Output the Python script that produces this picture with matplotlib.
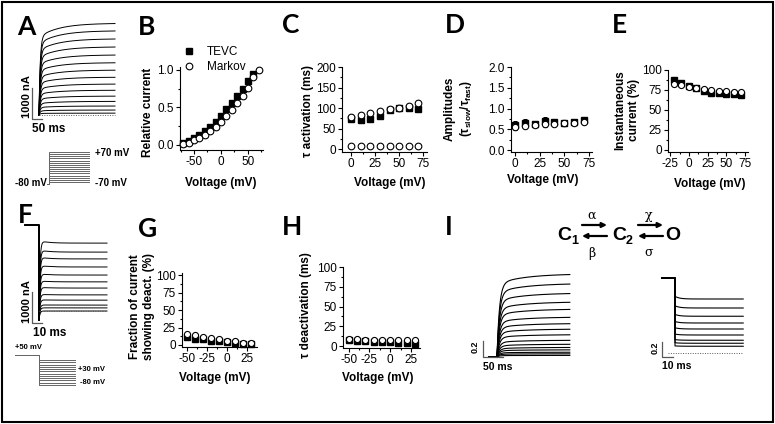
import numpy as np
import matplotlib
matplotlib.use("Agg")
import matplotlib.pyplot as plt
from matplotlib.ticker import MultipleLocator, FormatStrFormatter
from matplotlib.patches import Rectangle
from matplotlib.lines import Line2D

plt.rcParams["font.family"] = ["Liberation Sans", "DejaVu Sans"]
plt.rcParams["mathtext.default"] = "regular"
plt.rcParams["axes.unicode_minus"] = False

W, H = 775, 424

# ---------------- data ----------------
# A: activation current family (steady amplitude per step, nA) + protocol
A_levels = [2960, 2720, 2460, 2200, 1940, 1690, 1450, 1220, 1000, 800, 610, 440, 290, 160, 60]
A_hold = -80
A_steps = [-70, -60, -50, -40, -30, -20, -10, 0, 10, 20, 30, 40, 50, 60, 70]

# B: relative current vs voltage
B_v_tevc = [-70, -60, -50, -40, -30, -20, -10, 0, 10, 20, 30, 40, 50, 60]
B_tevc = [0.03, 0.05, 0.09, 0.13, 0.18, 0.24, 0.31, 0.39, 0.48, 0.56, 0.65, 0.75, 0.85, 0.95]
B_v_markov = [-70, -60, -50, -40, -30, -20, -10, 0, 10, 20, 30, 40, 50, 60, 70]
B_markov = [0.01, 0.03, 0.06, 0.09, 0.13, 0.18, 0.24, 0.31, 0.39, 0.47, 0.56, 0.65, 0.76, 0.90, 1.00]

# C: activation time constants (ms)
C_v = [0, 10, 20, 30, 40, 50, 60, 70]
C_tevc_slow = [74, 71, 74, 80, 95, 100, 100, 97]
C_markov_slow = [79, 83, 87, 92, 97, 101, 105, 111]
C_markov_fast = [7, 7, 7, 7, 7, 7, 7, 7]

# D: amplitude ratio slow/fast
D_v = [0, 10, 20, 30, 40, 50, 60, 70]
D_tevc = [0.60, 0.66, 0.62, 0.70, 0.67, 0.64, 0.68, 0.73]
D_tevc_err = [0.10, 0.09, 0.05, 0.10, 0.07, 0.07, 0.07, 0.06]
D_markov = [0.55, 0.58, 0.60, 0.62, 0.63, 0.64, 0.66, 0.68]
D_markov_err = [0.06, 0.05, 0.04, 0.06, 0.05, 0.05, 0.05, 0.04]

# E: instantaneous current (%)
E_v = [-20, -10, 0, 10, 20, 30, 40, 50, 60, 70]
E_tevc = [87, 84, 80, 77, 74, 71, 71, 70, 70, 69]
E_tevc_err = [2, 2, 2, 2, 2, 2, 2, 2, 2, 2]
E_markov = [83, 81, 79, 77, 76, 75, 74, 74, 73, 73]

# F: deactivation family (tail level per step, nA) + protocol
F_pre = 2770
F_levels = [2190, 1900, 1680, 1420, 1160, 940, 740, 520, 350, 190, 100, 0]
F_pre_v = 50
F_steps = [30, 20, 10, 0, -10, -20, -30, -40, -50, -60, -70, -80]

# G: fraction of current showing deactivation (%)
G_v = [-50, -40, -30, -20, -10, 0, 10, 20, 30]
G_markov = [16, 14, 12, 10, 8, 6, 5, 3, 3]
G_tevc = [11, 9, 8, 6, 5, 4, 3, 2, 1]

# H: deactivation time constant (ms)
H_v = [-50, -40, -30, -20, -10, 0, 10, 20, 30]
H_markov = [9, 9, 8, 8, 8, 8, 8, 8, 8]
H_tevc = [7, 6, 6, 5, 5, 5, 4, 4, 3]

# I: simulated (normalised) activation and tail levels
I_act_levels = [1.04, 0.92, 0.80, 0.69, 0.60, 0.50, 0.42, 0.35, 0.28, 0.21,
                0.16, 0.12, 0.09, 0.06, 0.04, 0.02]
I_tail_levels = [0.72, 0.60, 0.49, 0.40, 0.32, 0.24, 0.17, 0.13, 0.09]

# ---------------- figure ----------------
fig = plt.figure(figsize=(W / 100, H / 100), dpi=100)

bg = fig.add_axes([0, 0, 1, 1])
bg.set_xlim(0, W)
bg.set_ylim(H, 0)
bg.axis("off")
bg.add_patch(Rectangle((2, 2), W - 4, H - 4, fill=False, lw=1.5, ec="k", clip_on=False))


def fp(x, y):
    return x / W, 1 - y / H


def data_axes(x0, x1, ytop, ybot, xlim, ylim, xmaj, xmin, ymaj, ymin, yfmt="%d"):
    ax = fig.add_axes([x0 / W, 1 - ybot / H, (x1 - x0) / W, (ybot - ytop) / H])
    ax.set_xlim(*xlim)
    ax.set_ylim(*ylim)
    for s in ("top", "right"):
        ax.spines[s].set_visible(False)
    for s in ("left", "bottom"):
        ax.spines[s].set_linewidth(0.8)
    ax.xaxis.set_major_locator(MultipleLocator(xmaj))
    ax.xaxis.set_minor_locator(MultipleLocator(xmin))
    ax.yaxis.set_major_locator(MultipleLocator(ymaj))
    ax.yaxis.set_minor_locator(MultipleLocator(ymin))
    ax.yaxis.set_major_formatter(FormatStrFormatter(yfmt))
    ax.tick_params(which="both", direction="out", width=0.8, labelsize=8.5, pad=1.5)
    ax.tick_params(which="major", length=3)
    ax.tick_params(which="minor", length=1.6)
    ax.patch.set_alpha(0)
    return ax


def labels(ax, xl, xpos, yl, ypos):
    ax.set_xlabel(xl, fontsize=8.5, fontweight="bold", va="center")
    ax.xaxis.set_label_coords(*fp(*xpos), transform=fig.transFigure)
    ax.set_ylabel(yl, fontsize=8.5, fontweight="bold", va="center", ha="center",
                  multialignment="center", linespacing=1.2)
    ax.yaxis.set_label_coords(*fp(*ypos), transform=fig.transFigure)


def pair(ax, v1, y1, v2, y2, e1=None, e2=None, ms_sq=4.3, ms_ci=4.8):
    ax.errorbar(v1, y1, yerr=e1, fmt="s", color="k", ms=ms_sq, capsize=1.5,
                elinewidth=0.7, capthick=0.7, clip_on=False, zorder=3)
    ax.errorbar(v2, y2, yerr=e2, fmt="o", color="k", mfc="white", mec="k", mew=0.8,
                ms=ms_ci, capsize=1.5, elinewidth=0.7, capthick=0.7, clip_on=False, zorder=4)


def trace_axes(box, origin, scale):
    x0, y0, x1, y1 = box
    ox, oy = origin
    sx, sy = scale
    ax = fig.add_axes([x0 / W, 1 - y1 / H, (x1 - x0) / W, (y1 - y0) / H])
    ax.set_xlim((x0 - ox) / sx, (x1 - ox) / sx)
    ax.set_ylim((oy - y1) / sy, (oy - y0) / sy)
    ax.axis("off")
    return ax


bold = dict(fontweight="bold")

# ---- A traces ----
axA = trace_axes((8, 15, 125, 140), (39, 115), (0.2, 0.031))
tA = np.linspace(0, 380, 500)
for L in A_levels:
    axA.plot(tA, L * (0.85 * (1 - np.exp(-tA / 6)) + 0.15 * (1 - np.exp(-tA / 100))),
             color="k", lw=0.7)
axA.plot(tA[[0, -1]], [0, 0], color="0.35", lw=0.7, ls=(0, (1, 1.5)))
axA.plot([-35, -35, 15], [870, -130, -130], color="0.35", lw=0.9)
axA.text(-60, 580, "1000 nA", rotation=90, ha="center", va="center", fontsize=8, **bold)
axA.text(-35, -260, "50 ms", ha="left", va="top", fontsize=8.5, **bold)

axPA = trace_axes((5, 140, 130, 195), (49, 167), (0.2, 30 / 140))
for v in A_steps:
    axPA.plot([-10, 0, 0, 200], [A_hold, A_hold, v, v], color="0.4", lw=0.7)
axPA.text(230, 66, "+70 mV", ha="left", va="center", fontsize=7, **bold)
axPA.text(230, -74, "-70 mV", ha="left", va="center", fontsize=7, **bold)
axPA.text(-12, -74, "-80 mV", ha="right", va="center", fontsize=7, **bold)

# ---- F traces ----
axF = trace_axes((8, 215, 125, 345), (39, 311), (1.0, 0.031))
tF = np.linspace(0, 68, 600)
for L in F_levels:
    I = L * (1 + 0.04 * np.exp(-tF / 8)) - (1.04 * L + 300) * np.exp(-tF / 0.9)
    axF.plot(np.r_[-14, 0, tF], np.r_[F_pre, F_pre, I], color="k", lw=0.7)
axF.plot(tF[[0, -1]], [0, 0], color="0.35", lw=0.7, ls=(0, (1, 1.5)))
axF.plot([-7, -7, 3], [613, -387, -387], color="0.35", lw=0.9)
axF.text(-12, 290, "1000 nA", rotation=90, ha="center", va="center", fontsize=8, **bold)
axF.text(-6, -516, "10 ms", ha="left", va="top", fontsize=8.5, **bold)

axPF = trace_axes((5, 340, 130, 395), (39, 366.8), (1.0, 25 / 110))
for v in F_steps:
    axPF.plot([-24, 0, 0, 36], [F_pre_v, F_pre_v, v, v], color="0.4", lw=0.7)
axPF.text(-24, 69, "+50 mV", ha="left", va="bottom", fontsize=5.5, **bold)
axPF.text(39, -10, "+30 mV", ha="left", va="center", fontsize=5.5, **bold)
axPF.text(41, -71, "-80 mV", ha="left", va="center", fontsize=5.5, **bold)

# ---- I traces ----
axI1 = trace_axes((460, 260, 580, 375), (497, 357), (0.4, 80))
tI = np.linspace(0, 182, 500)
for L in I_act_levels:
    I = L * (0.88 * (1 - np.exp(-tI / 6)) + 0.12 * (1 - np.exp(-tI / 70)))
    axI1.plot(np.r_[-20, tI], np.r_[0, I], color="k", lw=0.8)
axI1.plot([-35, -35, 15], [0.2, 0, 0], color="0.35", lw=0.9)
axI1.text(-55, 0.125, "0.2", rotation=90, ha="center", va="center", fontsize=6.5, **bold)
axI1.text(-35, -0.0625, "50 ms", ha="left", va="top", fontsize=7.5, **bold)

axI2 = trace_axes((640, 260, 760, 375), (675, 353), (1.1, 75))
tR = np.linspace(0, 62, 300)
for L in I_tail_levels:
    axI2.plot(np.r_[-12, 0, tR], np.r_[1, 1, L * (1 + 0.05 * np.exp(-tR / 4))],
              color="k", lw=0.8)
axI2.plot([-6, 61], [0, 0], color="0.35", lw=0.7, ls=(0, (1, 1.5)))
axI2.plot([-12, -12, -2], [0.147, -0.053, -0.053], color="0.35", lw=0.9)
axI2.text(-18.2, 0.067, "0.2", rotation=90, ha="center", va="center", fontsize=6.5, **bold)
axI2.text(-12, -0.107, "10 ms", ha="left", va="top", fontsize=7.5, **bold)

# ---- B ----
axB = data_axes(180, 263, 67, 150, (-76, 78), (-0.067, 1.04), 50, 25, 0.5, 0.25, "%.1f")
pair(axB, B_v_tevc, B_tevc, B_v_markov, B_markov, ms_sq=4.3, ms_ci=4.8)
handles = [Line2D([], [], ls="none", marker="s", color="k", ms=4.3),
           Line2D([], [], ls="none", marker="o", mfc="white", mec="k", mew=0.8, ms=4.8)]
axB.legend(handles, ["TEVC", "Markov"], loc="upper left",
           bbox_to_anchor=((183 - 180) / 83, (150 - 46) / 83), frameon=False,
           handlelength=1.0, handletextpad=1.0, labelspacing=0.25, fontsize=8.5,
           borderaxespad=0, borderpad=0)
labels(axB, "Voltage (mV)", (221, 183), "Relative current", (148, 112))

# ---- C ----
axC = data_axes(342, 427, 67, 152, (-9.4, 79), (-7.3, 200), 25, 12.5, 50, 25)
pair(axC, C_v, C_tevc_slow, C_v, C_markov_slow)
axC.plot(C_v, C_markov_fast, ls="none", marker="o", mfc="white", mec="k", mew=0.8,
         ms=4.8, clip_on=False, zorder=4)
labels(axC, "Voltage (mV)", (390, 183), "τ activation (ms)", (308, 111))

# ---- D ----
axD = data_axes(511, 592, 67, 152, (-4, 78), (-0.048, 2.0), 25, 12.5, 0.5, 0.25, "%.1f")
pair(axD, D_v, D_tevc, D_v, D_markov, D_tevc_err, D_markov_err, ms_sq=4.0, ms_ci=4.6)
labels(axD, "Voltage (mV)", (543, 180),
       "Amplitudes\n(τ$_{slow}$/τ$_{fast}$)", (459, 109))

# ---- E ----
axE = data_axes(668, 748, 70, 152, (-28, 79), (-2.5, 100), 25, 12.5, 25, 12.5)
pair(axE, E_v, E_tevc, E_v, E_markov, E_tevc_err, None, ms_sq=4.0, ms_ci=4.4)
labels(axE, "Voltage (mV)", (710, 184), "Instantaneous\ncurrent (%)", (627, 110))

# ---- G ----
axG = data_axes(182, 257, 273, 347, (-56, 37), (-2.9, 103), 25, 12.5, 25, 12.5)
pair(axG, G_v, G_tevc, G_v, G_markov, ms_sq=4.0, ms_ci=4.4)
labels(axG, "Voltage (mV)", (215, 378),
       "Fraction of current\nshowing deact. (%)", (142, 307))

# ---- H ----
axH = data_axes(343, 420, 267, 348, (-57, 36), (-2.5, 100), 25, 12.5, 25, 12.5)
pair(axH, H_v, H_tevc, H_v, H_markov, ms_sq=4.0, ms_ci=4.4)
labels(axH, "Voltage (mV)", (378, 378), "τ deactivation (ms)", (306, 305))

# ---- panel letters ----
for letter, x, y in [("A", 17, 35), ("B", 138, 35), ("C", 282, 33), ("D", 445, 33),
                     ("E", 612, 33), ("F", 18, 223), ("G", 138, 237), ("H", 282, 235),
                     ("I", 445, 235)]:
    bg.text(x, y, letter, fontsize=19, fontweight="bold", ha="left", va="baseline",
            family=["Lato", "Liberation Sans"])

# ---- kinetic scheme ----
arrow = dict(arrowstyle="-|>", color="k", lw=1.6, mutation_scale=7, shrinkA=0, shrinkB=0)
bg.text(557, 240, "C", fontsize=14, ha="left", va="baseline", **bold)
bg.text(571, 244, "1", fontsize=9, ha="left", va="baseline", **bold)
bg.annotate("", xy=(607, 225), xytext=(582, 225), arrowprops=arrow)
bg.annotate("", xy=(582, 236), xytext=(607, 236), arrowprops=arrow)
bg.text(592, 215, "α", fontsize=9, ha="center", va="center", family="DejaVu Serif")
bg.text(592, 253, "β", fontsize=9, ha="center", va="center", family="DejaVu Serif")
bg.text(612, 240, "C", fontsize=14, ha="left", va="baseline", **bold)
bg.text(626, 244, "2", fontsize=9, ha="left", va="baseline", **bold)
bg.annotate("", xy=(663, 225), xytext=(638, 225), arrowprops=arrow)
bg.annotate("", xy=(638, 236), xytext=(663, 236), arrowprops=arrow)
bg.text(649, 215, "χ", fontsize=9, ha="center", va="center", family="DejaVu Serif")
bg.text(649, 252, "σ", fontsize=9, ha="center", va="center", family="DejaVu Serif")
bg.text(665, 240, "O", fontsize=14, ha="left", va="baseline", **bold)

fig.savefig("out.png", dpi=100)
